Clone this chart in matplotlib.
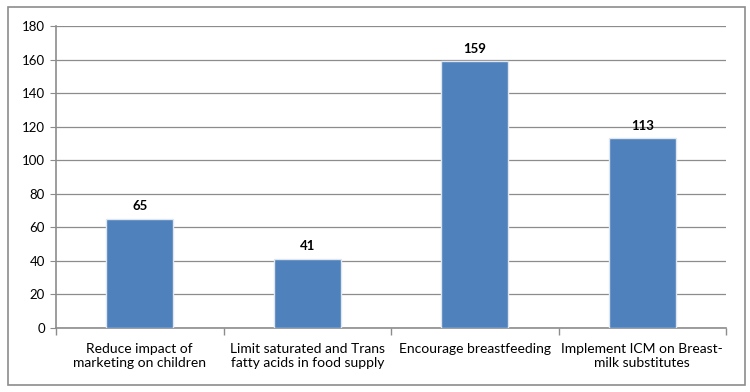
import numpy as np
from matplotlib import pyplot as plt
from matplotlib.patches import Rectangle

categories = ['Reduce impact of\nmarketing on children',
              'Limit saturated and Trans\nfatty acids in food supply',
              'Encourage breastfeeding',
              'Implement ICM on Breast-\nmilk substitutes']
values = [65, 41, 159, 113]
yticks = [0, 20, 40, 60, 80, 100, 120, 140, 160, 180]

plt.rcParams['font.family'] = ['Lato', 'DejaVu Sans']

fig = plt.figure(figsize=(7.5, 3.92), dpi=100)
# outer chart border
fig.patches.append(Rectangle((8 / 750, 7 / 392), 737 / 750, 378 / 392, transform=fig.transFigure,
                             fill=False, edgecolor='#8c8c8c', linewidth=1.2))
ax = fig.add_axes([56 / 750, 64 / 392, 670 / 750, 302 / 392])

x = np.arange(len(values))
bars = ax.bar(x, values, width=0.4, color='#4f81bd', edgecolor='#dfe6ee', linewidth=1.0, zorder=3)
for xi, v in zip(x, values):
    ax.text(xi, v + 4, str(v), ha='center', va='bottom', fontsize=9.5, fontweight='bold', color='#000000')

ax.set_xlim(-0.5, len(values) - 0.5)
ax.set_ylim(0, 180)
ax.set_yticks(yticks)
ax.yaxis.grid(True, color='#8c8c8c', linewidth=0.9, zorder=0)
ax.set_axisbelow(True)

ax.set_xticks(x)
ax.set_xticklabels(categories, fontsize=10, color='#000000', linespacing=1.15)
ax.tick_params(axis='x', length=0, pad=11)
ax.set_xticks(np.arange(-0.5, len(values)), minor=True)
ax.tick_params(axis='x', which='minor', length=5, color='#8c8c8c', width=1)
ax.tick_params(axis='y', labelsize=9.5, length=4, color='#8c8c8c', colors='#000000', pad=4)

for s in ['top', 'right']:
    ax.spines[s].set_visible(False)
for s in ['left', 'bottom']:
    ax.spines[s].set_color('#8c8c8c')
    ax.spines[s].set_linewidth(1.2)

fig.savefig('out.png', dpi=100)
